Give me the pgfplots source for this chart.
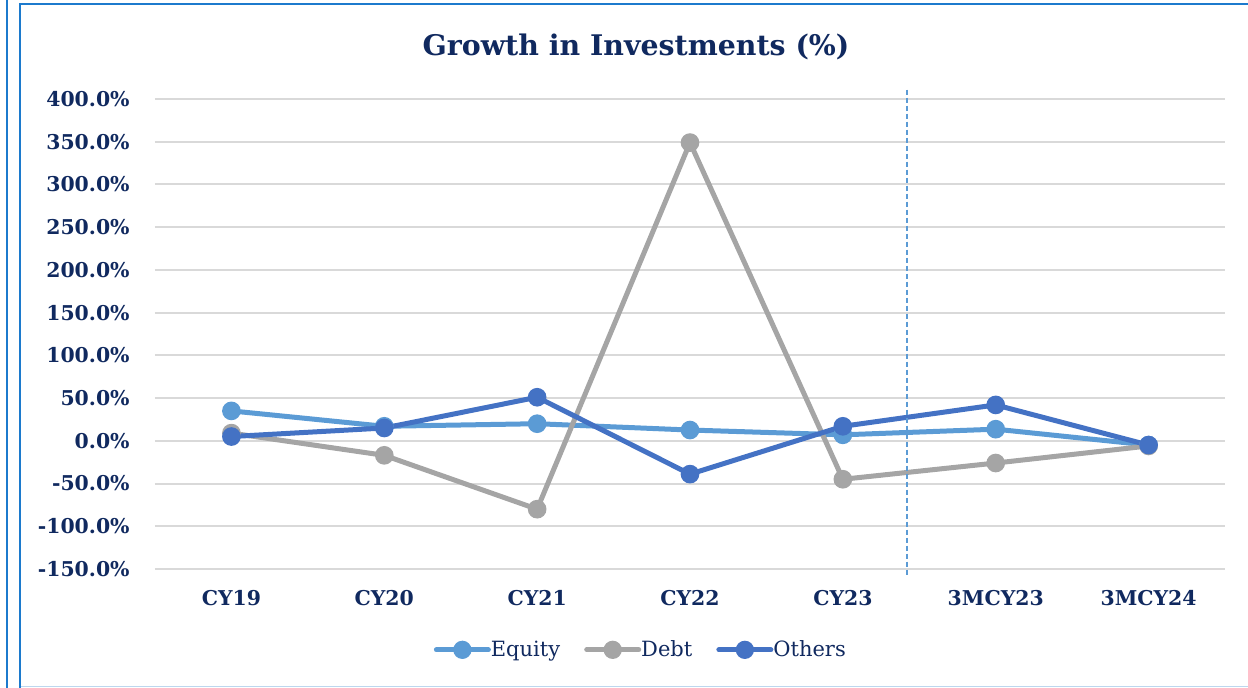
\documentclass[border=0pt]{standalone}
\usepackage{pgfplots}
\pgfplotsset{compat=1.18}
\usepackage{fontspec}
\setmainfont{DejaVu Serif}

\definecolor{navy}{HTML}{10295F}
\definecolor{cEquity}{HTML}{5B9BD5}
\definecolor{cDebt}{HTML}{A5A5A5}
\definecolor{cOthers}{HTML}{4472C4}
\definecolor{gridc}{HTML}{D9D9D9}
\definecolor{framec}{HTML}{1C7ACD}
\definecolor{framelight}{HTML}{BDD7EE}

\begin{document}
\begin{tikzpicture}
\begin{axis}[
    scale only axis,
    width=535pt, height=235pt,
    xmin=-0.5, xmax=6.5,
    ymin=-150, ymax=400,
    xtick={0,...,6},
    xticklabels={CY19,CY20,CY21,CY22,CY23,3MCY23,3MCY24},
    ytick={-150,-100,...,400},
    yticklabels={-150.0\%,-100.0\%,-50.0\%,0.0\%,50.0\%,100.0\%,150.0\%,200.0\%,250.0\%,300.0\%,350.0\%,400.0\%},
    axis line style={draw=none},
    major tick length=0pt,
    ymajorgrids,
    grid style={gridc, line width=1pt},
    yticklabel style={font=\fontsize{10.2}{12}\selectfont\bfseries, text=navy, anchor=east, inner sep=0pt, xshift=-12.5pt},
    xticklabel style={font=\fontsize{10.2}{12}\selectfont\bfseries, text=navy, anchor=north, inner sep=0pt, yshift=-10.5pt},
    clip=false,
    legend columns=3,
    legend style={at={(0.455,-0.172)}, anchor=center, draw=none, fill=none,
        font=\fontsize{10.5}{12}\selectfont, text=navy,
        /tikz/every odd column/.append style={column sep=-2pt},
        /tikz/every even column/.append style={column sep=10pt}},
    legend image code/.code={
        \draw[#1, line width=2.5pt, line cap=round] (0pt,0pt) -- (26pt,0pt);
        \fill[#1] (13pt,0pt) circle (3.3pt);
    },
]
\addplot[cEquity, line width=2.5pt, mark=*, mark size=3.4pt] coordinates {
    (0,35) (1,17) (2,20) (3,12.6) (4,7) (5,13.6) (6,-5)};
\addlegendentry{Equity}
\addplot[cDebt, line width=2.5pt, mark=*, mark size=3.4pt] coordinates {
    (0,9) (1,-17) (2,-80) (3,349) (4,-45) (5,-26) (6,-6)};
\addlegendentry{Debt}
\addplot[cOthers, line width=2.5pt, mark=*, mark size=3.4pt] coordinates {
    (0,5) (1,15) (2,51) (3,-39) (4,17) (5,42) (6,-5)};
\addlegendentry{Others}
\draw[cEquity, line width=0.6pt, dash pattern=on 2.5pt off 1.5pt]
    (axis cs:4.42,411) -- (axis cs:4.42,-160);
\end{axis}
\path[use as bounding box] (-77.5pt,-59.5pt) rectangle (546.5pt,284.5pt);
\draw[framec, line width=1pt] (-74pt,-60pt) -- (-74pt,285pt);
\draw[framelight, line width=0.8pt] (-67.5pt,-58.8pt) -- (547pt,-58.8pt);
\draw[framec, line width=1.3pt] (-67.5pt,-60pt) -- (-67.5pt,282.5pt) -- (547pt,282.5pt);
\node[font=\fontsize{14.2}{16}\selectfont\bfseries, text=navy] at (240.5pt,261pt) {Growth in Investments (\%)};
\end{tikzpicture}
\end{document}
